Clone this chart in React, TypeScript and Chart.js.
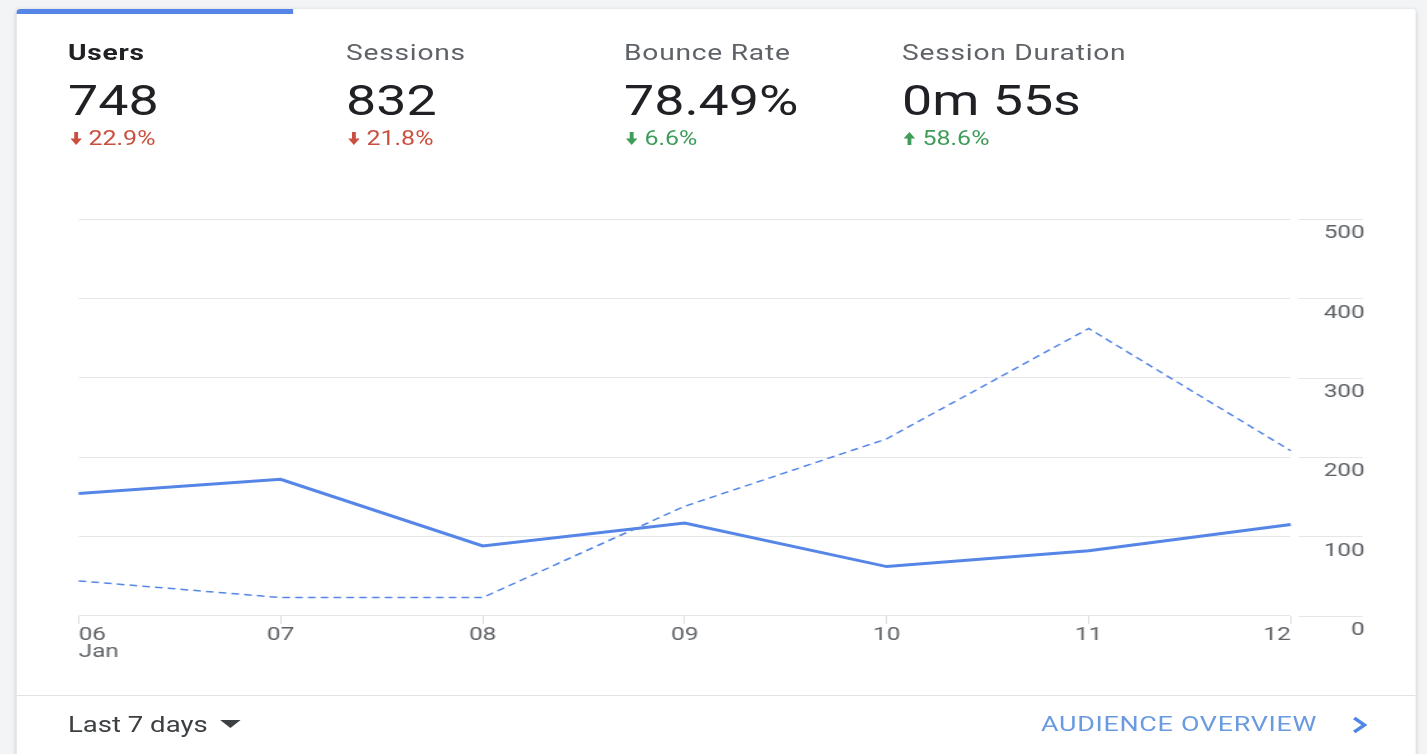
import React, { useEffect, useRef } from "react";
import { Chart, registerables } from "chart.js";

Chart.register(...registerables);

// ---- data ----
const dayLabels = ["06", "07", "08", "09", "10", "11", "12"];
const monthLabel = "Jan";
const currentUsers = [154, 172, 88, 117, 62, 82, 115];
const previousUsers = [44, 23, 23, 138, 223, 362, 208];
const yMin = 0;
const yMax = 500;
const yStep = 100;

const metricNames = ["Users", "Sessions", "Bounce Rate", "Session Duration"];
const metricValues = ["748", "832", "78.49%", "0m 55s"];
const metricChanges = ["22.9%", "21.8%", "6.6%", "58.6%"];
const metricDirections = ["down", "down", "down", "up"];
const metricGood = [false, false, true, true];

const rangeLabel = "Last 7 days";
const linkLabel = "AUDIENCE OVERVIEW";

// ---- layout ----
const S = 1.28; // horizontal stretch of the reference
const FONT = "Roboto, 'Noto Sans', Arial, sans-serif";
const BLUE = "#5585e6";
const RED = "#c9503f";
const GREEN = "#3f9c5a";
const GRID = "#e6e6e6";

const dx = (refX: number) => (refX - 16) / S; // card-relative design x

// extends each y grid line into the label column (with a small gap), like the reference
const gridExtension = {
  id: "gridExtension",
  beforeDatasetsDraw(chart: any) {
    const y = chart.scales.y;
    const { ctx, chartArea } = chart;
    ctx.save();
    ctx.strokeStyle = GRID;
    ctx.lineWidth = 1;
    y.ticks.forEach((t: any) => {
      const py = Math.round(y.getPixelForValue(t.value)) + 0.5;
      ctx.beginPath();
      ctx.moveTo(chartArea.right + 8 / S, py);
      ctx.lineTo(chartArea.right + 72 / S, py);
      ctx.stroke();
    });
    ctx.restore();
  },
};

function Arrow({ dir, color }: { dir: string; color: string }) {
  return (
    <svg width={9} height={13} viewBox="0 0 9 13" style={{ display: "block" }}>
      {dir === "down" ? (
        <g fill={color}>
          <rect x={3} y={0} width={3} height={8} />
          <polygon points="0,6.5 9,6.5 4.5,13" />
        </g>
      ) : (
        <g fill={color}>
          <rect x={3} y={5} width={3} height={8} />
          <polygon points="0,6.5 9,6.5 4.5,0" />
        </g>
      )}
    </svg>
  );
}

function LineChart() {
  const ref = useRef<HTMLCanvasElement | null>(null);
  useEffect(() => {
    if (!ref.current) return;
    const labels = dayLabels.map((d, i) => (i === 0 ? [d, monthLabel] : d));
    const chart = new Chart(ref.current, {
      type: "line",
      data: {
        labels,
        datasets: [
          {
            label: "Users",
            data: currentUsers,
            borderColor: BLUE,
            borderWidth: 3,
            pointRadius: 0,
            tension: 0,
            fill: false,
          },
          {
            label: "Users (previous period)",
            data: previousUsers,
            borderColor: BLUE,
            borderWidth: 1.5,
            borderDash: [6, 4],
            pointRadius: 0,
            tension: 0,
            fill: false,
          },
        ],
      },
      options: {
        animation: false,
        responsive: true,
        maintainAspectRatio: false,
        layout: { padding: { left: 48.4, right: 40.6, top: 30, bottom: 4 } },
        plugins: { legend: { display: false }, tooltip: { enabled: false } },
        scales: {
          x: {
            grid: {
              drawOnChartArea: false,
              drawTicks: true,
              tickLength: 8,
              color: "#dadce0",
            },
            border: { display: false },
            ticks: {
              align: "inner",
              maxRotation: 0,
              autoSkip: false,
              padding: 3,
              color: "#5f6368",
              font: { family: FONT, size: 19, lineHeight: 0.9 },
            },
          },
          y: {
            position: "right",
            min: yMin,
            max: yMax,
            grid: { color: GRID, drawTicks: false },
            border: { display: false },
            ticks: {
              stepSize: yStep,
              padding: 12.9,
              crossAlign: "far",
              labelOffset: 14.5,
              color: "#5f6368",
              font: { family: FONT, size: 19 },
            },
          },
        },
      },
      plugins: [gridExtension],
    });
    return () => chart.destroy();
  }, []);
  return <canvas ref={ref} />;
}

export default function App() {
  return (
    <div
      style={{
        position: "fixed",
        left: 0,
        top: 0,
        width: 1427,
        height: 754,
        background: "#f3f4f6",
        overflow: "hidden",
        fontFamily: FONT,
      }}
    >
      <div
        style={{
          position: "absolute",
          left: 0,
          top: 0,
          width: 1427 / S,
          height: 754,
          transform: `scaleX(${S})`,
          transformOrigin: "0 0",
        }}
      >
        <div
          style={{
            position: "absolute",
            left: 16 / S,
            top: 9,
            width: (1416 - 16) / S,
            height: 800,
            background: "#fff",
            borderRadius: 3,
            boxShadow: "0 1px 4px rgba(60,64,67,0.22)",
          }}
        >
          <div
            style={{
              position: "absolute",
              left: 0,
              top: 0,
              width: dx(293),
              height: 5,
              background: BLUE,
              borderTopLeftRadius: 3,
            }}
          />
          {metricNames.map((name, i) => {
            const left = dx(68) + (i * 278) / S;
            const color = metricGood[i] ? GREEN : RED;
            return (
              <React.Fragment key={name}>
                <div
                  style={{
                    position: "absolute",
                    left,
                    top: 33,
                    fontSize: 22,
                    lineHeight: "22px",
                    letterSpacing: 0.6,
                    whiteSpace: "nowrap",
                    color: i === 0 ? "#202124" : "#5f6368",
                    fontWeight: i === 0 ? 700 : 400,
                  }}
                >
                  {name}
                </div>
                <div
                  style={{
                    position: "absolute",
                    left,
                    top: 70.6,
                    fontSize: 42,
                    lineHeight: "42px",
                    whiteSpace: "nowrap",
                    color: "#202124",
                    fontWeight: 400,
                  }}
                >
                  {metricValues[i]}
                </div>
                <div
                  style={{
                    position: "absolute",
                    left: left + 1.5,
                    top: 120,
                    display: "flex",
                    alignItems: "center",
                    fontSize: 19.5,
                    lineHeight: "19.5px",
                    whiteSpace: "nowrap",
                    color,
                  }}
                >
                  <Arrow dir={metricDirections[i]} color={color} />
                  <span style={{ marginLeft: 5.5 }}>{metricChanges[i]}</span>
                </div>
              </React.Fragment>
            );
          })}
          <div
            style={{
              position: "absolute",
              left: 0,
              top: 180,
              width: (1416 - 16) / S,
              height: 479,
            }}
          >
            <LineChart />
          </div>
          <div
            style={{
              position: "absolute",
              left: 0,
              top: 686,
              width: (1416 - 16) / S,
              height: 1,
              background: "#e3e3e3",
            }}
          />
          <div
            style={{
              position: "absolute",
              left: dx(68),
              top: 704.5,
              fontSize: 21.5,
              lineHeight: "21.5px",
              color: "#3c4043",
              whiteSpace: "nowrap",
            }}
          >
            {rangeLabel}
          </div>
          <div
            style={{
              position: "absolute",
              left: dx(220),
              top: 711,
              width: 0,
              height: 0,
              borderLeft: "8.6px solid transparent",
              borderRight: "8.6px solid transparent",
              borderTop: "8px solid #3c4043",
            }}
          />
          <div
            style={{
              position: "absolute",
              left: dx(1041),
              top: 705,
              fontSize: 21,
              lineHeight: "21px",
              color: "#6a9be0",
              whiteSpace: "nowrap",
              letterSpacing: 0.55,
            }}
          >
            {linkLabel}
          </div>
          <svg
            width={13}
            height={18}
            viewBox="0 0 13 18"
            style={{ position: "absolute", left: dx(1352), top: 707 }}
          >
            <polyline
              points="2,2 10,9 2,16"
              fill="none"
              stroke="#4f86e6"
              strokeWidth={3}
            />
          </svg>
        </div>
      </div>
    </div>
  );
}
